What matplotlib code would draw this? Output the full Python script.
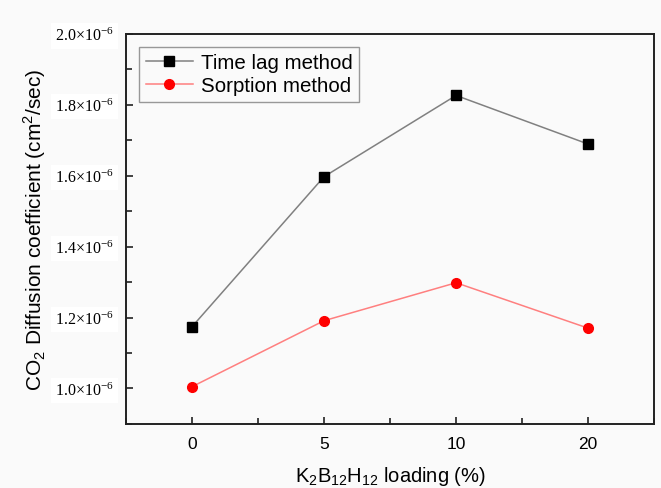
import numpy as np
import matplotlib
matplotlib.use("Agg")
import matplotlib.pyplot as plt
from matplotlib.ticker import FuncFormatter, MultipleLocator

plt.rcParams['font.family'] = ['Liberation Sans', 'DejaVu Sans']

# 読み取ったデータ
loading = ["0", "5", "10", "20"]
time_lag = [1.174e-6, 1.597e-6, 1.826e-6, 1.689e-6]
sorption = [1.005e-6, 1.191e-6, 1.298e-6, 1.170e-6]

bg = '#fafafa'
fig = plt.figure(figsize=(6.61, 4.89), dpi=100, facecolor=bg)
ax = fig.add_axes([0.1906, 0.131, 0.799, 0.798], facecolor=bg)

x = np.arange(len(loading))
ax.plot(x, time_lag, color='#808080', lw=1.1, marker='s', ms=6.5,
        mfc='black', mec='black', label='Time lag method')
ax.plot(x, sorption, color='#ff7f7f', lw=1.1, marker='o', ms=7,
        mfc='red', mec='red', label='Sorption method')

ax.set_xlim(-0.5, 3.5)
ax.set_ylim(0.9e-6, 2.0e-6)
ax.set_xticks(x)
ax.set_xticklabels(loading)
ax.xaxis.set_minor_locator(MultipleLocator(0.5))
ax.yaxis.set_major_locator(MultipleLocator(0.2e-6))
ax.yaxis.set_minor_locator(MultipleLocator(0.1e-6))


def sci(v, pos):
    return r'$\mathregular{%.1f{\times}10^{-6}}$' % (v * 1e6)


ax.yaxis.set_major_formatter(FuncFormatter(sci))
ax.tick_params(which='both', direction='in', width=1.2, color='#222222')
ax.tick_params(which='major', length=5)
ax.tick_params(which='minor', length=4)
ax.tick_params(axis='x', which='major', labelsize=12.5, pad=9)
ax.tick_params(axis='y', which='major', labelsize=11.5, pad=9)
for lab in ax.get_yticklabels():
    lab.set_family('Liberation Serif')
    lab.set_bbox(dict(facecolor='white', edgecolor='none', pad=3))
for s in ax.spines.values():
    s.set_linewidth(1.4)
    s.set_color('#222222')

ax.set_xlabel(r'K$_\mathregular{2}$B$_\mathregular{12}$H$_\mathregular{12}$ loading (%)',
              fontsize=14.5, labelpad=9)
ax.set_ylabel(r'CO$_\mathregular{2}$ Diffusion coefficient (cm$^\mathregular{2}$/sec)',
              fontsize=15, labelpad=5)

leg = ax.legend(loc='upper left', fontsize=14.8, frameon=True, fancybox=False,
                borderaxespad=0.65, handlelength=2.3, handletextpad=0.4,
                borderpad=0.3, labelspacing=0.2)
leg.get_frame().set_edgecolor('#808080')
leg.get_frame().set_facecolor(bg)
leg.get_frame().set_linewidth(1.0)

fig.savefig('out.png', dpi=100, facecolor=bg)
